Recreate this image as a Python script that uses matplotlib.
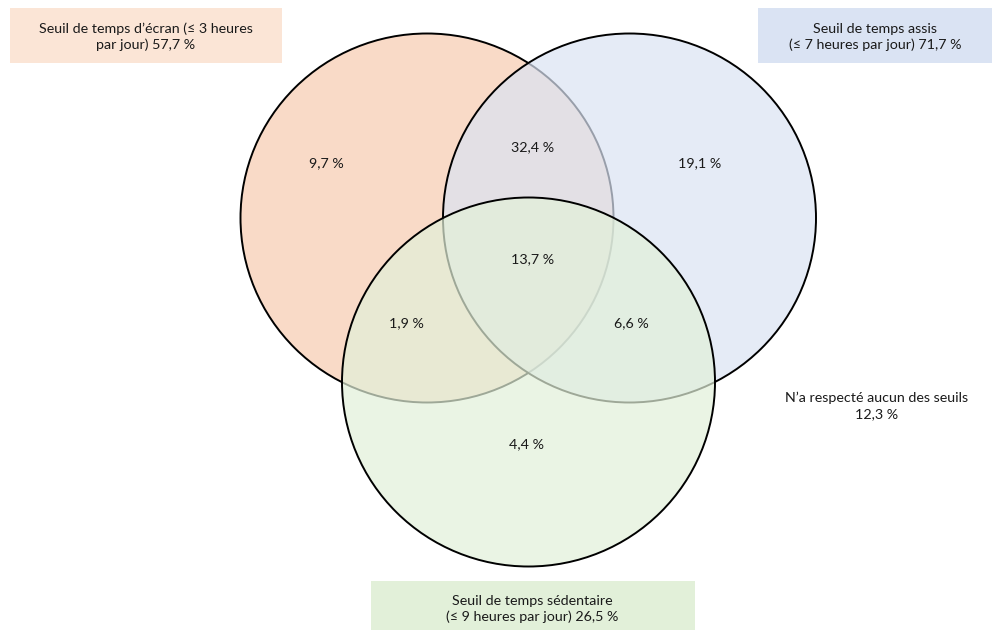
import matplotlib
matplotlib.use("Agg")
import matplotlib.pyplot as plt
from matplotlib.patches import Ellipse, Rectangle

plt.rcParams['font.family'] = ['Lato', 'DejaVu Sans']

# Sets and their labels
set_names = ["Seuil de temps d\u2019écran (≤ 3 heures\npar jour) 57,7 %",
             "Seuil de temps assis\n(≤ 7 heures par jour) 71,7 %",
             "Seuil de temps sédentaire\n(≤ 9 heures par jour) 26,5 %"]
fill_colors = ["#F7CBB0", "#DAE3F3", "#E2F0D9"]
box_colors = ["#FBE5D6", "#DAE3F3", "#E2F0D9"]

# Share of each region (percent)
only_screen = 9.7
only_sit = 19.1
only_sed = 4.4
screen_sit = 32.4
screen_sed = 1.9
sit_sed = 6.6
all_three = 13.7
none = 12.3

fig = plt.figure(figsize=(10.03, 6.3), dpi=100)
ax = fig.add_axes([0, 0, 1, 1])
ax.set_xlim(0, 1003)
ax.set_ylim(630, 0)
ax.axis("off")

# circles in pixel layout
centers = [(427, 218), (629.5, 218), (528.5, 382)]
for (cx, cy), col in zip(centers, fill_colors):
    ax.add_patch(Ellipse((cx, cy), 373, 369, facecolor=matplotlib.colors.to_rgba(col, 0.7),
                         edgecolor="black", linewidth=1.4))

def pct(v):
    return "{:.1f} %".format(v).replace(".", ",")

fs = 10.3
regions = [(only_screen, 326, 163), (screen_sit, 533, 147), (only_sit, 700, 163),
           (all_three, 533, 259), (screen_sed, 406, 323), (sit_sed, 631, 323),
           (only_sed, 527, 444)]
for v, x, y in regions:
    ax.text(x, y, pct(v), ha="center", va="center", fontsize=fs, color="#1a1a1a")

# label boxes
boxes = [(10, 8, 272, 55, 146, 37), (758, 8, 234, 55, 875, 37), (371, 581, 324, 49, 532, 609)]
for (x, y, w, h, tx, ty), name, col in zip(boxes, set_names, box_colors):
    ax.add_patch(Rectangle((x, y), w, h, facecolor=col, edgecolor="none"))
    ax.text(tx, ty, name, ha="center", va="center", fontsize=fs, color="#1a1a1a",
            linespacing=1.35)

ax.text(877, 406, "N\u2019a respecté aucun des seuils\n" + pct(none), ha="center", va="center",
        fontsize=fs, color="#1a1a1a", linespacing=1.35)

fig.savefig("out.png", dpi=100)
